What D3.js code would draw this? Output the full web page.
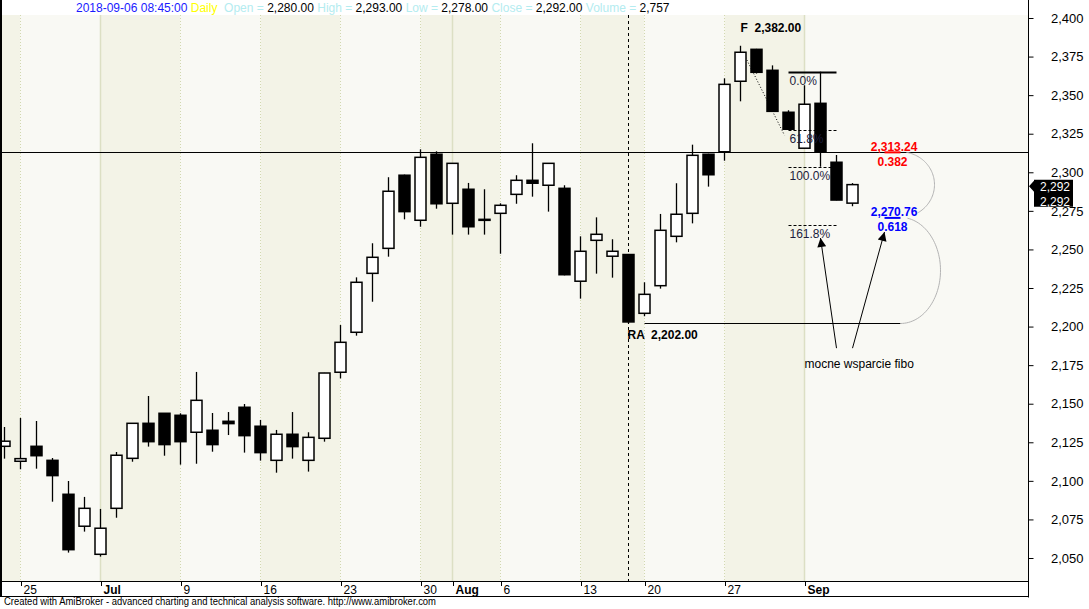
<!DOCTYPE html>
<html><head><meta charset="utf-8">
<script src="https://cdn.jsdelivr.net/npm/d3@7"></script>
<style>
html,body{margin:0;padding:0;background:#fff;}
svg{display:block;font-family:"Liberation Sans",Arial,sans-serif;}
</style></head><body>
<svg id="c" width="1089" height="609"></svg>
<script>
// ---------------- data ----------------
const dates = ["2018-06-22","2018-06-25","2018-06-26","2018-06-27","2018-06-28","2018-06-29",
"2018-07-02","2018-07-03","2018-07-04","2018-07-05","2018-07-06",
"2018-07-09","2018-07-10","2018-07-11","2018-07-12","2018-07-13",
"2018-07-16","2018-07-17","2018-07-18","2018-07-19","2018-07-20",
"2018-07-23","2018-07-24","2018-07-25","2018-07-26","2018-07-27",
"2018-07-30","2018-07-31","2018-08-01","2018-08-02","2018-08-03",
"2018-08-06","2018-08-07","2018-08-08","2018-08-09","2018-08-10",
"2018-08-13","2018-08-14","2018-08-16","2018-08-17",
"2018-08-20","2018-08-21","2018-08-22","2018-08-23","2018-08-24",
"2018-08-27","2018-08-28","2018-08-29","2018-08-30","2018-08-31",
"2018-09-03","2018-09-04","2018-09-05","2018-09-06"];
const open = [2122.4,2112.7,2122.4,2113.3,2091.3,2070.6,2052.4,2082.2,2114.6,2137.3,
2143.8,2142.5,2131.5,2132.8,2138.6,2147.7,2135.4,2113.3,2130.2,2113.3,
2127.6,2170.4,2196.3,2234.5,2250.7,2298.1,2268.9,2311.7,2279.9,2289.0,
2269.5,2273.4,2285.7,2294.8,2291.6,2289.6,2229.4,2255.9,2245.6,2246.7,
2208.6,2226.5,2258.5,2273.4,2311.7,2313.3,2359.0,2379.7,2366.1,2338.9,
2315.6,2344.7,2306.5,2280.0];
const high = [2134.9,2140.8,2138.8,2114.8,2099.9,2089.6,2081.8,2118.7,2137.3,2155.0,
2144.0,2143.8,2170.6,2144.0,2144.6,2149.8,2139.5,2133.0,2144.6,2131.5,
2170.0,2201.0,2231.9,2254.0,2296.8,2298.5,2314.9,2313.6,2306.0,2293.1,
2289.0,2279.9,2298.1,2318.8,2306.0,2291.6,2258.5,2270.8,2256.6,2247.0,
2228.7,2273.0,2292.9,2317.9,2312.0,2360.9,2382.0,2380.0,2369.3,2340.2,
2356.4,2365.2,2311.2,2293.0];
const low = [2114.4,2107.5,2107.9,2086.5,2053.5,2067.1,2050.9,2076.1,2112.4,2122.2,
2116.3,2110.5,2111.1,2118.9,2129.7,2118.3,2113.1,2105.3,2114.4,2106.0,
2125.4,2166.4,2194.1,2216.1,2245.3,2269.5,2264.7,2276.4,2259.6,2259.6,
2259.6,2247.2,2279.6,2284.2,2274.5,2233.2,2218.1,2234.3,2231.7,2202.0,
2206.7,2224.6,2254.6,2266.9,2290.7,2307.5,2346.0,2364.0,2339.2,2327.7,
2315.4,2303.6,2281.8,2278.0];
const close = [2125.7,2114.4,2116.3,2103.4,2055.4,2082.2,2069.3,2116.6,2137.3,2125.4,
2123.5,2125.4,2152.2,2123.5,2137.1,2129.3,2118.3,2130.2,2122.2,2128.2,
2169.9,2189.8,2228.7,2244.9,2287.7,2274.5,2309.7,2279.6,2305.8,2264.7,
2269.5,2278.6,2294.8,2292.9,2305.8,2233.6,2248.8,2259.8,2248.8,2203.0,
2220.9,2262.4,2272.8,2311.0,2298.4,2357.0,2377.8,2364.8,2339.5,2327.9,
2344.1,2313.0,2282.0,2292.0];
const volumeLast = 2757;

const tickIdx    = [1, 6, 11, 16, 21, 26, 28, 31, 36, 40, 45, 50];
const tickLabels = ["25","Jul","9","16","23","30","Aug","6","13","20","27","Sep"];
const monthIdx   = [6, 28, 50];
const weekIdx    = [1, 6, 11, 16, 21, 26, 31, 36, 40, 45, 50];
const yTicks     = [2050,2075,2100,2125,2150,2175,2200,2225,2250,2275,2300,2325,2350,2375,2400];

// Fibonacci retracement (swing RA -> F)
const swingHigh = 2382, swingLow = 2202;
const swingHighIdx = 46, swingLowIdx = 39;
const retrRatios = [0.382, 0.618];
const retrColors = ["#ff0000", "#0000ff"];
// Fibonacci levels tool
const fibTop = 2365.2, fibBottom = 2303.6;
const fibRatios = [0, 0.618, 1, 1.618];
const fibLabels = ["0.0%", "61.8%", "100.0%", "161.8%"];
const noteText = "mocne wsparcie fibo";

// ---------------- layout ----------------
const svg = d3.select("#c");
const W = 1089, H = 609;
const plotL = 2, plotR = 1028, plotT = 15, plotB = 581;
const x = d3.scaleLinear().domain([0, dates.length - 1]).range([4.5, 4.5 + 16 * (dates.length - 1)]);
const y = d3.scaleLinear().domain([2050, 2400]).range([558, 18]);

svg.append("rect").attr("width", W).attr("height", H).attr("fill", "#fff");

// background week bands
const bandEdges = [plotL].concat(weekIdx.map(i => x(i))).concat([plotR]);
for (let k = 0; k < bandEdges.length - 1; k++) {
  svg.append("rect").attr("x", bandEdges[k]).attr("y", plotT)
    .attr("width", bandEdges[k + 1] - bandEdges[k]).attr("height", plotB - plotT)
    .attr("fill", k % 2 === 0 ? "#f3f3e7" : "#f9f9f4");
}
// grid lines
svg.append("g").selectAll("line").data(weekIdx.filter(i => !monthIdx.includes(i))).join("line")
  .attr("x1", d => x(d)).attr("x2", d => x(d)).attr("y1", plotT).attr("y2", plotB)
  .attr("stroke", "#d2d8b0").attr("stroke-dasharray", "1,2");
svg.append("g").selectAll("line").data(monthIdx).join("line")
  .attr("x1", d => x(d)).attr("x2", d => x(d)).attr("y1", plotT).attr("y2", plotB)
  .attr("stroke", "#dcdfc4").attr("stroke-width", 1.5);

// dashed vertical at RA candle
svg.append("line").attr("x1", x(swingLowIdx)).attr("x2", x(swingLowIdx))
  .attr("y1", plotT).attr("y2", plotB).attr("stroke", "#000").attr("stroke-dasharray", "3,3");

// retracement levels
const retrVals = retrRatios.map(r => swingHigh - r * (swingHigh - swingLow));
svg.append("line").attr("x1", plotL).attr("x2", plotR)
  .attr("y1", Math.round(y(retrVals[0])) + 0.5).attr("y2", Math.round(y(retrVals[0])) + 0.5)
  .attr("stroke", "#000");
svg.append("line").attr("x1", x(swingLowIdx + 1)).attr("x2", x(56))
  .attr("y1", Math.round(y(swingLow)) + 0.5).attr("y2", Math.round(y(swingLow)) + 0.5)
  .attr("stroke", "#000");

// dotted trend line of fib tool
svg.append("line").attr("x1", x(46.15)).attr("y1", y(2378)).attr("x2", x(48.75)).attr("y2", y(2324))
  .attr("stroke", "#000").attr("stroke-dasharray", "1,2");

// candles
const idx = d3.range(dates.length);
const cg = svg.append("g");
cg.selectAll("line.w").data(idx).join("line").attr("class", "w")
  .attr("x1", i => x(i)).attr("x2", i => x(i))
  .attr("y1", i => y(high[i])).attr("y2", i => y(low[i]))
  .attr("stroke", "#000").attr("stroke-width", 1.3);
cg.selectAll("rect").data(idx).join("rect")
  .attr("x", i => x(i) - 5.5).attr("width", 11)
  .attr("y", i => y(Math.max(open[i], close[i])))
  .attr("height", i => Math.max(1, y(Math.min(open[i], close[i])) - y(Math.max(open[i], close[i]))))
  .attr("fill", i => close[i] >= open[i] ? "#fff" : "#000")
  .attr("stroke", "#000").attr("stroke-width", 1.5);

// fib levels (drawn over candles)
const fibVals = fibRatios.map(r => fibTop - r * (fibTop - fibBottom));
fibVals.forEach((v, k) => {
  const yy = Math.round(y(v)) + 0.5;
  svg.append("line").attr("x1", x(49)).attr("x2", x(52)).attr("y1", yy).attr("y2", yy)
    .attr("stroke", "#000").attr("stroke-width", k === 0 ? 2 : 1)
    .attr("stroke-dasharray", k === 0 ? null : "3,2");
  svg.append("text").attr("x", x(49) + 1).attr("y", yy + 12.5).text(fibLabels[k])
    .attr("font-size", 12).attr("fill", "#1c1c3c");
});

// swing labels
svg.append("text").attr("x", x(swingHighIdx)).attr("y", y(swingHigh) - 14)
  .attr("font-size", 12).attr("font-weight", "bold").attr("xml:space", "preserve")
  .text("F  " + d3.format(",.2f")(swingHigh));
svg.append("text").attr("x", x(swingLowIdx) - 1).attr("y", y(swingLow) + 16)
  .attr("font-size", 12).attr("font-weight", "bold").attr("xml:space", "preserve")
  .text("RA  " + d3.format(",.2f")(swingLow));

// retracement labels, handles and arcs
retrVals.forEach((v, k) => {
  const yy = y(v);
  svg.append("line").attr("x1", x(55)).attr("x2", x(56)).attr("y1", yy + 0.5).attr("y2", yy + 0.5)
    .attr("stroke", retrColors[k]).attr("stroke-width", 2);
  svg.append("text").attr("x", x(55.6)).attr("y", yy - 1).attr("text-anchor", "middle")
    .attr("font-size", 12).attr("font-weight", "bold").attr("fill", retrColors[k])
    .text(d3.format(",.2f")(v));
  svg.append("text").attr("x", x(55.5)).attr("y", yy + 14).attr("text-anchor", "middle")
    .attr("font-size", 12).attr("font-weight", "bold").attr("fill", retrColors[k])
    .text(d3.format(".3f")(retrRatios[k]));
});
function ellArc(cx, cy, rx, ry, a0, a1) {
  const pts = d3.range(0, 61).map(k => {
    const a = (a0 + (a1 - a0) * k / 60) * Math.PI / 180;
    return [cx + rx * Math.cos(a), cy + ry * Math.sin(a)];
  });
  return d3.line()(pts);
}
const arcLevels = [retrVals[0], retrVals[1], swingLow];
[[34, -80, 60], [40, -80, 90]].forEach((p, k) => {
  const ya = y(arcLevels[k]), yb = y(arcLevels[k + 1]);
  svg.append("path").attr("d", ellArc(x(56), (ya + yb) / 2, p[0], (yb - ya) / 2, p[1], p[2]))
    .attr("fill", "none").attr("stroke", "#b4b4b4");
});

// note + arrows
svg.append("defs").append("marker").attr("id", "ah").attr("viewBox", "0 0 10 10")
  .attr("refX", 10).attr("refY", 5).attr("markerWidth", 12).attr("markerHeight", 9)
  .attr("markerUnits", "userSpaceOnUse").attr("orient", "auto")
  .append("path").attr("d", "M0,0 L10,5 L0,10 Z").attr("fill", "#000");
[[52, 2186, 51, 2257.4], [53, 2186, 55, 2261.3]].forEach(a => {
  svg.append("line").attr("x1", x(a[0])).attr("y1", y(a[1])).attr("x2", x(a[2])).attr("y2", y(a[3]))
    .attr("stroke", "#000").attr("marker-end", "url(#ah)");
});
svg.append("text").attr("x", x(50)).attr("y", y(2173.2)).attr("font-size", 12).attr("fill", "#000")
  .text(noteText);

// header
svg.append("rect").attr("x", plotL).attr("y", 0).attr("width", plotR - plotL).attr("height", plotT).attr("fill", "#fff");
const last = dates.length - 1;
const f2 = d3.format(",.2f");
const ht = svg.append("text").attr("x", 76).attr("y", 12).attr("font-size", 12).attr("xml:space", "preserve");
const lab = "#b4ecf0";
[[dates[last] + " 08:45:00 ", "#1a1aff"], ["Daily ", "#ffff00"],
 [" Open = ", lab], [f2(open[last]), "#000"], [" High = ", lab], [f2(high[last]), "#000"],
 [" Low = ", lab], [f2(low[last]), "#000"], [" Close = ", lab], [f2(close[last]), "#000"],
 [" Volume = ", lab], [d3.format(",")(volumeLast), "#000"]]
 .forEach(s => ht.append("tspan").attr("fill", s[1]).text(s[0]));

// frame
svg.append("line").attr("x1", 1).attr("x2", 1).attr("y1", 0).attr("y2", 597).attr("stroke", "#000").attr("stroke-width", 2);
svg.append("line").attr("x1", plotR + 0.5).attr("x2", plotR + 0.5).attr("y1", 0).attr("y2", 597.5).attr("stroke", "#000");
svg.append("line").attr("x1", 0).attr("x2", plotR + 1).attr("y1", plotB + 0.5).attr("y2", plotB + 0.5).attr("stroke", "#000");
svg.append("line").attr("x1", 0).attr("x2", plotR + 1).attr("y1", 596.5).attr("y2", 596.5).attr("stroke", "#000");

// right axis
const ya = svg.append("g").attr("transform", `translate(${plotR + 0.5},0)`)
  .call(d3.axisRight(y).tickValues(yTicks).tickFormat(d3.format(",")).tickSize(5).tickPadding(0));
ya.select(".domain").remove();
ya.selectAll("line").attr("stroke", "#000");
ya.selectAll("text").attr("x", 55).attr("text-anchor", "end").attr("font-size", 13)
  .attr("font-family", "Liberation Sans, Arial, sans-serif").attr("fill", "#000");

// bottom axis
const bx = svg.append("g");
tickIdx.forEach((t, k) => {
  const xx = Math.round(x(t)) + 0.5;
  bx.append("line").attr("x1", xx).attr("x2", xx).attr("y1", plotB + 1).attr("y2", plotB + 5).attr("stroke", "#000");
  bx.append("text").attr("x", xx + 2).attr("y", 593.5).attr("font-size", 12)
    .attr("font-weight", monthIdx.includes(t) ? "bold" : "normal").text(tickLabels[k]);
});

// last price marker
const yc = y(close[last]);
svg.append("path").attr("d", `M${plotR + 1},${yc + 1.5} L${plotR + 6},${yc - 4} L${plotR + 6},${yc - 5} L1073,${yc - 5} L1073,${yc + 22} L${plotR + 6},${yc + 22} L${plotR + 6},${yc + 7} Z`)
  .attr("fill", "#000");
[close[last], close[last]].forEach((v, k) => {
  svg.append("text").attr("x", 1055).attr("y", yc + 6 + 15 * k).attr("text-anchor", "middle")
    .attr("font-size", 12).attr("fill", "#fff").text(d3.format(",")(v));
});

// footer
svg.append("text").attr("x", 4).attr("y", 605).attr("font-size", 10).attr("fill", "#000")
  .attr("textLength", 432).attr("lengthAdjust", "spacingAndGlyphs")
  .text("Created with AmiBroker - advanced charting and technical analysis software. http://www.amibroker.com");
</script>
</body></html>
